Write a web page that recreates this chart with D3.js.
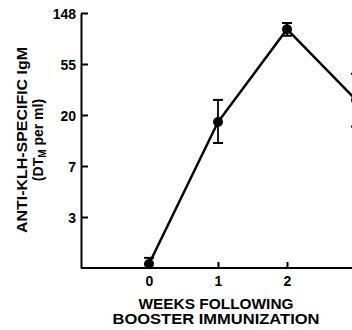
<!DOCTYPE html>
<html>
<head>
<meta charset="utf-8">
<script src="https://cdn.jsdelivr.net/npm/d3@7/dist/d3.min.js"></script>
<style>
  html, body { margin: 0; padding: 0; background: #fff; }
  svg { display: block; }
  text { font-family: "Liberation Sans", Arial, Helvetica, sans-serif; font-weight: bold; fill: #000; }
</style>
</head>
<body>
<svg id="chart" width="352" height="330"></svg>
<script>
// Weeks after booster and anti-KLH IgM titres (DT_M per ml)
const weeks = [0, 1, 2, 3];
const igmMean = [1.08, 17.5, 108, 27];
const igmUpper = [1.22, 27, 122, 45];
const igmLower = [1.0, 11.6, 95, 16];

// Natural-log axis: ticks at e^1 ... e^5, printed rounded
const yTickPowers = [1, 2, 3, 4, 5];
const yTickLabels = ["3", "7", "20", "55", "148"];
const xTickValues = [0, 1, 2, 3];

const svg = d3.select("#chart");

const x = d3.scaleLinear().domain([-1, 3]).range([80, 356]);
const y = d3.scaleLog().base(Math.E).domain([1, Math.exp(5)]).range([268, 13]);

// Clip marks to the plotting area above the time axis
svg.append("defs").append("clipPath").attr("id", "plot")
  .append("rect").attr("x", 81).attr("y", 0).attr("width", 300).attr("height", 267);

const yAxis = d3.axisLeft(y)
  .tickValues(yTickPowers.map(p => Math.exp(p)))
  .tickFormat((d, i) => yTickLabels[i])
  .tickSizeInner(-7).tickSizeOuter(0).tickPadding(5);

const gy = svg.append("g").attr("transform", "translate(81,0)").call(yAxis);
gy.select(".domain").attr("stroke-width", 2);
gy.selectAll(".tick line").attr("stroke-width", 2);
gy.selectAll(".tick text").style("font-size", "14px").attr("dy", "0.36em");

const xAxis = d3.axisBottom(x)
  .tickValues(xTickValues)
  .tickFormat(d3.format("d"))
  .tickSizeInner(-6).tickSizeOuter(0).tickPadding(7);

const gx = svg.append("g").attr("transform", "translate(0,268)").call(xAxis);
gx.select(".domain").attr("d", "M81,0H352").attr("stroke-width", 2);
gx.selectAll(".tick line").attr("stroke-width", 2);
gx.selectAll(".tick text").style("font-size", "14px").attr("dy", "0.75em");

const marks = svg.append("g").attr("clip-path", "url(#plot)");

const pts = weeks.map((w, i) => ({ w, m: igmMean[i], hi: igmUpper[i], lo: igmLower[i] }));

marks.append("path")
  .datum(pts)
  .attr("fill", "none").attr("stroke", "#000").attr("stroke-width", 2.5)
  .attr("d", d3.line().x(d => x(d.w)).y(d => y(d.m)));

const eb = marks.selectAll(".err").data(pts).join("g").attr("class", "err");
eb.append("line")
  .attr("x1", d => x(d.w)).attr("x2", d => x(d.w))
  .attr("y1", d => y(d.hi)).attr("y2", d => y(d.lo))
  .attr("stroke", "#000").attr("stroke-width", 1.8);
eb.append("line")
  .attr("x1", d => x(d.w) - 5).attr("x2", d => x(d.w) + 5)
  .attr("y1", d => y(d.hi)).attr("y2", d => y(d.hi))
  .attr("stroke", "#000").attr("stroke-width", 2);
eb.filter(d => d.lo > 1).append("line")
  .attr("x1", d => x(d.w) - 5).attr("x2", d => x(d.w) + 5)
  .attr("y1", d => y(d.lo)).attr("y2", d => y(d.lo))
  .attr("stroke", "#000").attr("stroke-width", 2);

marks.selectAll(".dot").data(pts).join("circle")
  .attr("class", "dot")
  .attr("cx", d => x(d.w)).attr("cy", d => y(d.m)).attr("r", 5)
  .attr("fill", "#000");

// Axis titles
const yTitle = svg.append("g").attr("transform", "translate(0,140) rotate(-90)");
yTitle.append("text")
  .attr("x", 0).attr("y", 27).attr("text-anchor", "middle")
  .attr("textLength", 186).attr("lengthAdjust", "spacingAndGlyphs")
  .style("font-size", "15px")
  .text("ANTI-KLH-SPECIFIC IgM");
const t2 = yTitle.append("text")
  .attr("x", 0).attr("y", 43).attr("text-anchor", "middle")
  .style("font-size", "14px");
t2.append("tspan").text("(DT");
t2.append("tspan").attr("dy", 3).style("font-size", "10px").text("M");
t2.append("tspan").attr("dy", -3).text(" per ml)");

svg.append("text")
  .attr("x", 216).attr("y", 309).attr("text-anchor", "middle")
  .attr("textLength", 155).attr("lengthAdjust", "spacingAndGlyphs")
  .style("font-size", "14px")
  .text("WEEKS FOLLOWING");
svg.append("text")
  .attr("x", 216).attr("y", 324).attr("text-anchor", "middle")
  .attr("textLength", 207).attr("lengthAdjust", "spacingAndGlyphs")
  .style("font-size", "14px")
  .text("BOOSTER IMMUNIZATION");
</script>
</body>
</html>
